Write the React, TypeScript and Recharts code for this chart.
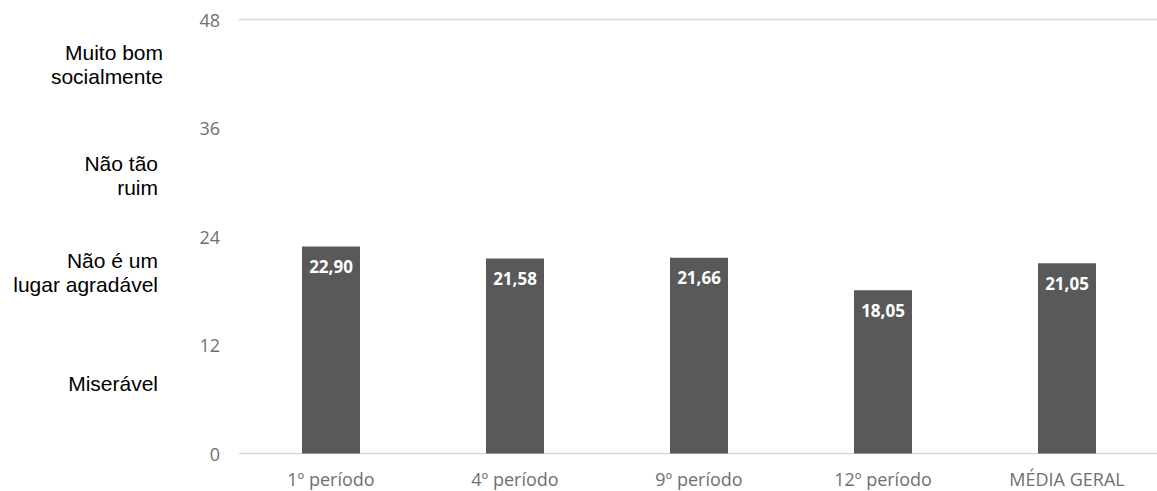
import React from 'react';
import { BarChart, Bar, XAxis, YAxis, CartesianGrid, LabelList, ReferenceLine } from 'recharts';

const categories = ['1º período', '4º período', '9º período', '12º período', 'MÉDIA GERAL'];
const values = [22.9, 21.58, 21.66, 18.05, 21.05];
const yTicks = [0, 12, 24, 36, 48];
const scaleLabels = [['Muito bom', 'socialmente'], ['Não tão', 'ruim'], ['Não é um', 'lugar agradável'], ['Miserável']];
const scaleLabelValues = [43, 30.8, 20, 7.7];
const scaleLabelRight = [163, 158, 158, 158];

const data = categories.map((c, i) => ({ name: c, value: values[i] }));

const TICK_FONT = '"Open Sans", sans-serif';
const TICK_COLOR = '#707070';

const YTick = (props: any) => {
  const { x, y, payload } = props;
  return (
    <text x={x - 19} y={y} textAnchor="end" dominantBaseline="central" fontFamily={TICK_FONT} fontSize={18} fill={TICK_COLOR}>
      {payload.value}
    </text>
  );
};

const XTick = (props: any) => {
  const { x, y, payload } = props;
  return (
    <text x={x} y={y + 32} textAnchor="middle" fontFamily={TICK_FONT} fontSize={18} fill={TICK_COLOR}>
      {payload.value}
    </text>
  );
};

const makeScaleLabel = (index: number) => (props: any) => {
  const vb = props.viewBox || {};
  const y = vb.y;
  const lines = scaleLabels[index] || [];
  const lh = 24;
  const start = y - ((lines.length - 1) * lh) / 2;
  return (
    <text textAnchor="end" fontFamily='"Liberation Sans", Arial, sans-serif' fontSize={21} fill="#000">
      {lines.map((l, i) => (
        <tspan key={i} x={scaleLabelRight[index]} y={start + i * lh} dominantBaseline="central">
          {l}
        </tspan>
      ))}
    </text>
  );
};

const ValueLabel = (props: any) => {
  const { x, y, width, value } = props;
  return (
    <text x={x + width / 2} y={y + 20} textAnchor="middle" dominantBaseline="central" fontFamily={TICK_FONT} fontWeight={700} fontSize={17} fill="#fff">
      {Number(value).toFixed(2).replace('.', ',')}
    </text>
  );
};

export default function App() {
  return (
    <div style={{ position: 'absolute', left: 0, top: 0, width: 1157, height: 491, background: '#fff' }}>
      <BarChart width={1157} height={491} data={data} margin={{ top: 19.5, right: -2, bottom: 0, left: 0 }}>
        <CartesianGrid horizontal vertical={false} stroke="#d9d9d9" strokeWidth={1.5} />
        <XAxis dataKey="name" axisLine={false} tickLine={false} tickSize={0} tickMargin={0} height={37.5} tick={<XTick />} interval={0} />
        <YAxis yAxisId="v" domain={[0, 48]} ticks={yTicks} axisLine={false} tickLine={false} tickSize={0} tickMargin={0} width={239} tick={<YTick />} interval={0} />
        <Bar yAxisId="v" dataKey="value" fill="#595959" barSize={58} isAnimationActive={false}>
          <LabelList dataKey="value" content={<ValueLabel />} />
        </Bar>
        {scaleLabelValues.map((v, i) => (
          <ReferenceLine key={i} yAxisId="v" y={v} stroke="none" ifOverflow="visible" label={makeScaleLabel(i)} />
        ))}
      </BarChart>
    </div>
  );
}
